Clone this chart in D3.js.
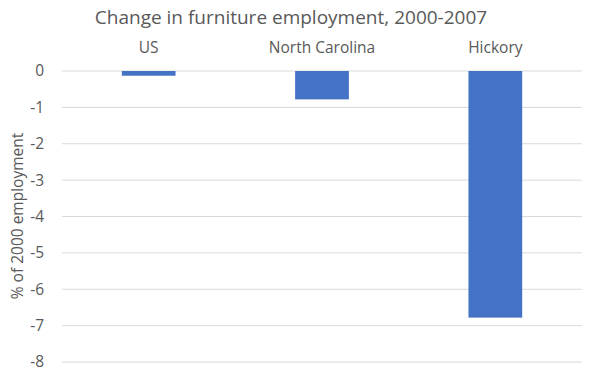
<!DOCTYPE html>
<html>
<head>
<meta charset="utf-8">
<script src="https://cdn.jsdelivr.net/npm/d3@7"></script>
<style>
  body { margin: 0; background: #fff; }
  text { font-family: "Open Sans", "Noto Sans", sans-serif; }
</style>
</head>
<body>
<svg id="chart" width="592" height="377"></svg>
<script>
const categories = ['US', 'North Carolina', 'Hickory'];
const values     = [-0.13, -0.78, -6.78];
const yTicks     = [0, -1, -2, -3, -4, -5, -6, -7, -8];

const svg = d3.select('#chart');
const Mg  = { top: 71, left: 62 };
const plotR = 582, plotB = 362;

const x = d3.scaleBand().domain(categories).range([Mg.left, plotR]).padding(0);
const y = d3.scaleLinear().domain([0, -8]).range([Mg.top, plotB]);
const barW = x.bandwidth() * 0.31;

// gridlines
svg.append('g').selectAll('line').data(yTicks).join('line')
  .attr('x1', Mg.left).attr('x2', plotR)
  .attr('y1', d => y(d)).attr('y2', d => y(d))
  .attr('stroke', '#d9d9d9').attr('stroke-width', 1);

// y tick labels
svg.append('g').selectAll('text').data(yTicks).join('text')
  .attr('x', 44).attr('y', d => y(d)).attr('dy', '0.35em')
  .attr('text-anchor', 'end').attr('fill', '#595959').attr('font-size', 15.5)
  .text(d => d);

// bars
svg.append('g').selectAll('rect').data(categories).join('rect')
  .attr('x', d => x(d) + x.bandwidth() / 2 - barW / 2)
  .attr('y', y(0))
  .attr('width', barW)
  .attr('height', (d, i) => y(values[i]) - y(0))
  .attr('fill', '#4472c4');

// category labels on top
svg.append('g').selectAll('text').data(categories).join('text')
  .attr('x', d => x(d) + x.bandwidth() / 2).attr('y', 48).attr('dy', '0.35em')
  .attr('text-anchor', 'middle').attr('fill', '#595959').attr('font-size', 15.5)
  .text(d => d);

// title
svg.append('text').attr('x', 291).attr('y', 17).attr('dy', '0.35em')
  .attr('text-anchor', 'middle').attr('fill', '#595959').attr('font-size', 19)
  .text('Change in furniture employment, 2000-2007');

// y axis title
svg.append('text').attr('transform', 'translate(18,216) rotate(-90)')
  .attr('dy', '0.35em').attr('text-anchor', 'middle')
  .attr('fill', '#595959').attr('font-size', 15.5)
  .text('% of 2000 employment');
</script>
</body>
</html>
